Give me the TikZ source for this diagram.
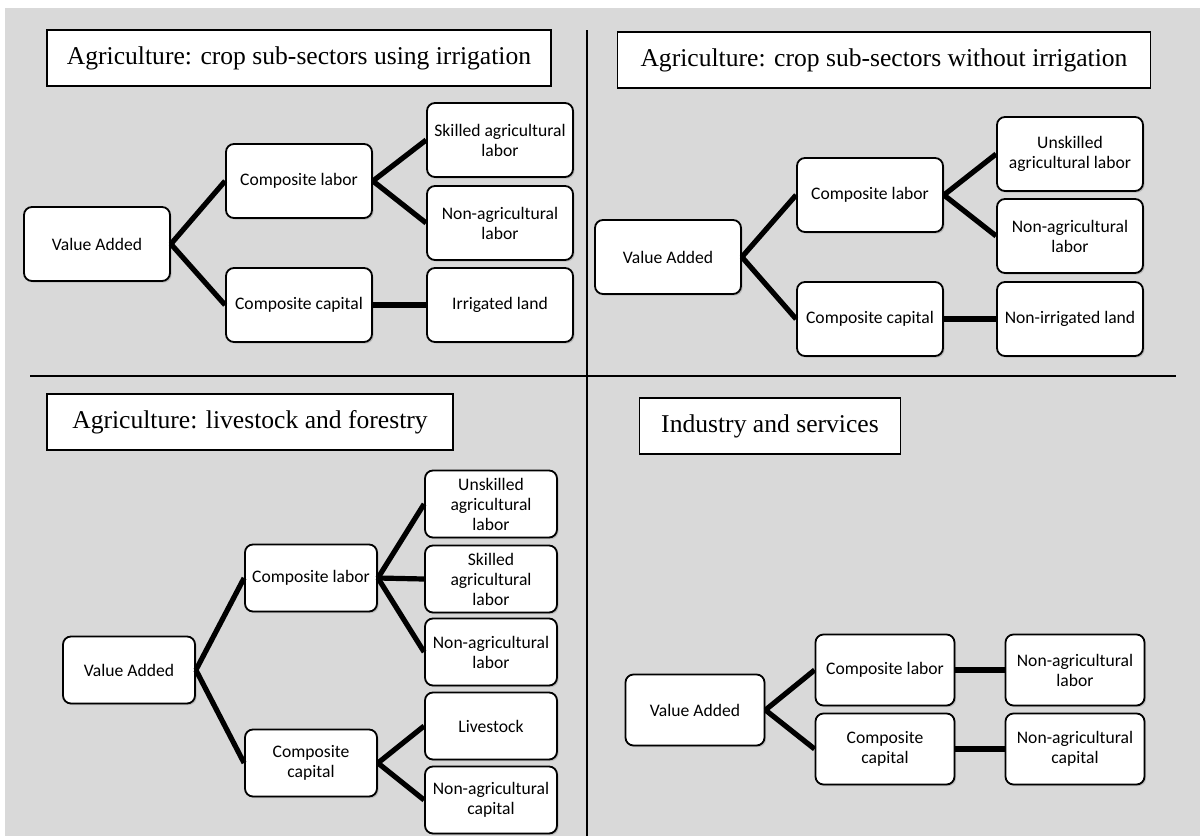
\documentclass[tikz,border=0pt]{standalone}
\usepackage{fontspec}
\setmainfont{Liberation Serif}
\setsansfont{Carlito}
\usepackage{tikz}
\usetikzlibrary{shadows}
\definecolor{pozadina}{RGB}{217,217,217}

\begin{document}
\begin{tikzpicture}[x=0.5pt, y=-0.5pt,
	kutija/.style={draw, line width=0.9pt, rounded corners=4pt, fill=white,
		align=center, inner sep=1pt, font=\sffamily\fontsize{8.8}{10}\selectfont,
		minimum width=73pt, minimum height=37pt,
		drop shadow={shadow xshift=0.8pt, shadow yshift=-0.8pt, opacity=0.35}},
	mala/.style={kutija, minimum width=66pt, minimum height=33.5pt},
	srednja/.style={kutija, minimum width=69.5pt, minimum height=35.5pt},
	naslov/.style={draw, line width=0.9pt, fill=white, inner sep=0pt,
		font=\fontsize{12.8}{14}\selectfont, minimum height=28pt},
	veza/.style={line width=2.6pt},
	razdjelnik/.style={line width=1pt}]

	%okvir
	\useasboundingbox (0,0) rectangle (1200,836);
	\fill[white] (0,0) rectangle (1200,836);
	\fill[pozadina] (5,8) rectangle (1200,836);

	%razdjelnici
	\draw[razdjelnik] (30,376) -- (1176,376);
	\draw[razdjelnik] (587,30) -- (587,836);

	%gore lijevo
	\node[naslov, minimum width=252pt] (n1) at (299,58) {Agriculture: crop sub-sectors using irrigation};
	\node[kutija] (va1) at (97,244) {Value Added};
	\node[kutija] (cl1) at (299,181) {Composite labor};
	\node[kutija] (cc1) at (299,305) {Composite capital};
	\node[kutija] (sa1) at (500,140) {Skilled agricultural\\labor};
	\node[kutija] (na1) at (500,223) {Non-agricultural\\labor};
	\node[kutija] (il1) at (500,305) {Irrigated land};

	\draw[veza] (va1.east) -- (cl1.west);
	\draw[veza] (va1.east) -- (cc1.west);
	\draw[veza] (cl1.east) -- (sa1.west);
	\draw[veza] (cl1.east) -- (na1.west);
	\draw[veza] (cc1.east) -- (il1.west);

	%gore desno
	\node[naslov, minimum width=266.5pt] (n2) at (884,60) {Agriculture: crop sub-sectors without irrigation};
	\node[kutija] (va2) at (668,257) {Value Added};
	\node[kutija] (cl2) at (870,195) {Composite labor};
	\node[kutija] (cc2) at (870,319) {Composite capital};
	\node[kutija] (ua2) at (1070,154) {Unskilled\\agricultural labor};
	\node[kutija] (na2) at (1070,236) {Non-agricultural\\labor};
	\node[kutija] (nl2) at (1070,319) {Non-irrigated land};

	\draw[veza] (va2.east) -- (cl2.west);
	\draw[veza] (va2.east) -- (cc2.west);
	\draw[veza] (cl2.east) -- (ua2.west);
	\draw[veza] (cl2.east) -- (na2.west);
	\draw[veza] (cc2.east) -- (nl2.west);

	%dolje lijevo
	\node[naslov, minimum width=203pt] (n3) at (250,422) {Agriculture: livestock and forestry};
	\node[mala] (va3) at (129,670) {Value Added};
	\node[mala] (cl3) at (311,578) {Composite labor};
	\node[mala] (cc3) at (311,763) {Composite\\capital};
	\node[mala] (ua3) at (491,504) {Unskilled\\agricultural\\labor};
	\node[mala] (sa3) at (491,579) {Skilled\\agricultural\\labor};
	\node[mala] (na3) at (491,652) {Non-agricultural\\labor};
	\node[mala] (lv3) at (491,726) {Livestock};
	\node[mala] (nc3) at (491,800) {Non-agricultural\\capital};

	\draw[veza] (va3.east) -- (cl3.west);
	\draw[veza] (va3.east) -- (cc3.west);
	\draw[veza] (cl3.east) -- (ua3.west);
	\draw[veza] (cl3.east) -- (sa3.west);
	\draw[veza] (cl3.east) -- (na3.west);
	\draw[veza] (cc3.east) -- (lv3.west);
	\draw[veza] (cc3.east) -- (nc3.west);

	%dolje desno
	\node[naslov, minimum width=130.5pt] (n4) at (770,426) {Industry and services};
	\node[srednja] (va4) at (695,710) {Value Added};
	\node[srednja] (cl4) at (885,670) {Composite labor};
	\node[srednja] (cc4) at (885,749) {Composite\\capital};
	\node[srednja] (nl4) at (1075,670) {Non-agricultural\\labor};
	\node[srednja] (nc4) at (1075,749) {Non-agricultural\\capital};

	\draw[veza] (va4.east) -- (cl4.west);
	\draw[veza] (va4.east) -- (cc4.west);
	\draw[veza] (cl4.east) -- (nl4.west);
	\draw[veza] (cc4.east) -- (nc4.west);

\end{tikzpicture}
\end{document}
